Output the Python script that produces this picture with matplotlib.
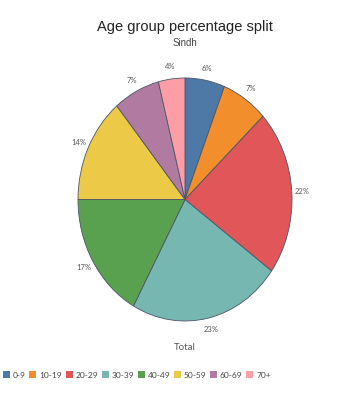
import matplotlib
matplotlib.use("Agg")
import matplotlib.pyplot as plt
from matplotlib.patches import Patch

categories = ["0-9", "10-19", "20-29", "30-39", "40-49", "50-59", "60-69", "70+"]
values = [6, 7, 22, 23, 17, 14, 7, 4]
colors = ["#4e79a7", "#f28e2b", "#e15759", "#76b7b2", "#59a14f", "#edc948", "#b07aa1", "#ff9da7"]

W, H = 361, 396
fig = plt.figure(figsize=(W / 100, H / 100), dpi=100)
fig.patch.set_facecolor("white")

cx0, cx1 = 78, 292
cy0, cy1 = 78, 321
ax = fig.add_axes([cx0 / W, 1 - cy1 / H, (cx1 - cx0) / W, (cy1 - cy0) / H])

wedges, texts = ax.pie(values, colors=colors, startangle=90, counterclock=False,
                       labels=[f"{v}%" for v in values], labeldistance=1.1,
                       wedgeprops=dict(edgecolor="#4a5566", linewidth=0.6),
                       textprops=dict(fontsize=5.5, color="#555555", family="Lato"))
ax.set_aspect("auto")
ax.set_xlim(-1, 1)
ax.set_ylim(-1, 1)
ax.axis("off")
for t in texts:
    t.set_clip_on(False)
    t.set_ha("center")
    t.set_va("center")

fig.text(185 / W, 1 - 27 / H, "Age group percentage split", ha="center", va="center",
         fontsize=10.5, family="Liberation Sans", color="#222222")
fig.text(185 / W, 1 - 43 / H, "Sindh", ha="center", va="center",
         fontsize=7, family="Liberation Sans", color="#444444")
fig.text(185 / W, 1 - 348 / H, "Total", ha="center", va="center",
         fontsize=7, family="Lato", color="#555555")

handles = [Patch(facecolor=c, edgecolor="none") for c in colors]
fig.legend(handles, categories, loc="center left", bbox_to_anchor=(3 / W, 1 - 375 / H),
           ncol=len(categories), frameon=False,
           prop=dict(family="Lato", size=6), handlelength=0.85, handleheight=0.85,
           handletextpad=0.35, columnspacing=0.42, borderpad=0.0, borderaxespad=0.0,
           labelcolor="#444444")

fig.savefig("out.png", dpi=100, facecolor="white")
